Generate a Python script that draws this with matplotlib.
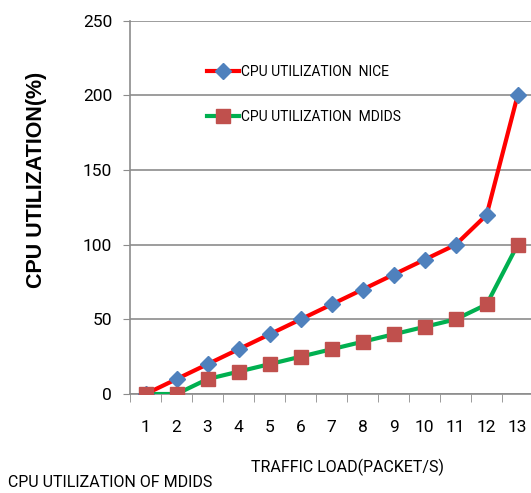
import matplotlib
matplotlib.use("Agg")
import matplotlib.pyplot as plt
from matplotlib.ticker import FixedLocator

plt.rcParams["font.family"] = ["Roboto", "DejaVu Sans"]

traffic_load = [1, 2, 3, 4, 5, 6, 7, 8, 9, 10, 11, 12, 13]
cpu_nice = [0, 10, 20, 30, 40, 50, 60, 70, 80, 90, 100, 120, 200]
cpu_mdids = [0, 0, 10, 15, 20, 25, 30, 35, 40, 45, 50, 60, 100]
y_ticks = [0, 50, 100, 150, 200, 250]

GRID = "#8c8c8c"

fig = plt.figure(figsize=(5.31, 4.93), dpi=100)
ax = fig.add_axes([0.245, 0.2008, 0.759, 0.757])

ax.plot(traffic_load, cpu_nice, color="#ff0000", lw=3, marker="D",
        markersize=8, markerfacecolor="#4f81bd", markeredgecolor="#4f81bd",
        label="CPU UTILIZATION  NICE", zorder=3)
ax.plot(traffic_load, cpu_mdids, color="#00b050", lw=3, marker="s",
        markersize=10, markerfacecolor="#c0504d", markeredgecolor="#c0504d",
        label="CPU UTILIZATION  MDIDS", zorder=3)

ax.set_xlim(0.5, 13.5)
ax.set_ylim(0, 250)
ax.set_yticks(y_ticks)
ax.set_xticks(traffic_load)
ax.xaxis.set_minor_locator(FixedLocator([x + 0.5 for x in range(0, 14)]))
ax.tick_params(axis="x", which="major", length=0, pad=19, labelsize=12.5)
ax.tick_params(axis="x", which="minor", length=6, color=GRID, direction="out")
ax.tick_params(axis="y", length=5, color=GRID, labelsize=12.5, pad=8)
ax.grid(axis="y", color=GRID, lw=1.2)
ax.set_axisbelow(True)
for side in ["top", "right"]:
    ax.spines[side].set_visible(False)
for side in ["left", "bottom"]:
    ax.spines[side].set_color(GRID)
    ax.spines[side].set_linewidth(1.2)

ax.legend(loc="upper left", bbox_to_anchor=(0.16, 0.915), frameon=False,
          fontsize=10, handlelength=2.3, handletextpad=0.15, labelspacing=2.2)

ax.set_ylabel("CPU UTILIZATION(%)", family=["Liberation Sans", "DejaVu Sans"],
              fontweight="bold", fontsize=15.5, va="center")
ax.yaxis.set_label_coords(-0.232, 0.575)
fig.text(0.655, 0.034, "TRAFFIC LOAD(PACKET/S)", fontsize=11.5, ha="center", va="bottom")
fig.text(0.016, 0.006, "CPU UTILIZATION OF MDIDS", fontsize=11.5, ha="left", va="bottom")

fig.savefig("out.png", dpi=100)
